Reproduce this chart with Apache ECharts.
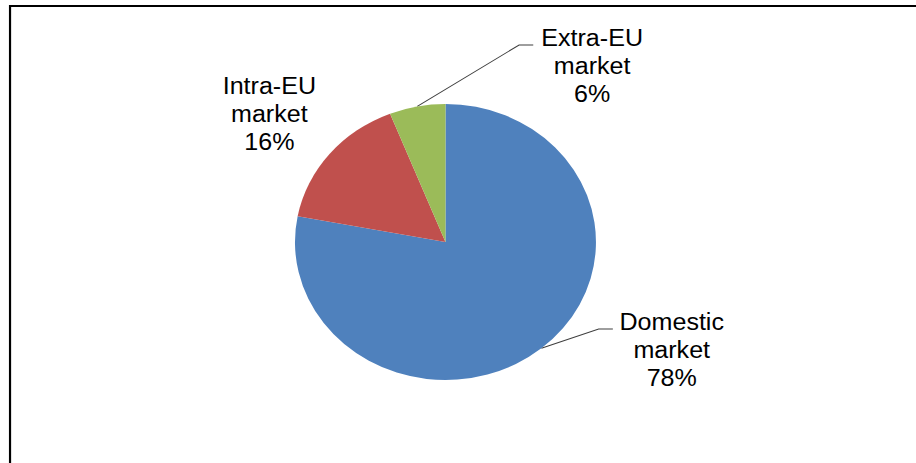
<!DOCTYPE html>
<html>
<head>
<meta charset="utf-8">
<script src="https://cdn.jsdelivr.net/npm/echarts@6/dist/echarts.min.js"></script>
<style>
  html, body { margin: 0; padding: 0; background: #fff; overflow: hidden; }
  /* the chart is laid out 840px wide and stretched horizontally to fill 916px */
  #chart { width: 840px; height: 463px; transform: scaleX(1.0905); transform-origin: 0 0; }
</style>
</head>
<body>
<div id="chart"></div>
<script>
// Market shares
const categories = ['Domestic market', 'Intra-EU market', 'Extra-EU market'];
const shares = [78, 16, 6];
const sliceColors = ['#4F81BD', '#C0504D', '#9BBB59'];

// Label block placement: [centre x, top y] in chart pixels
const labelSpots = [[616, 307.5], [247, 71.5], [543, 23.5]];
const showLeader = [true, false, true];

const chart = echarts.init(document.getElementById('chart'), null, { renderer: 'svg' });

const option = {
  animation: false,
  backgroundColor: '#ffffff',
  graphic: [{
    type: 'rect',
    silent: true,
    shape: { x: 9.2, y: 6, width: 1200, height: 1200 },
    style: { fill: 'none', stroke: '#000000', lineWidth: 2 }
  }],
  series: [{
    type: 'pie',
    center: [408.5, 242],
    radius: 138,
    startAngle: 90,
    clockwise: true,
    avoidLabelOverlap: false,
    itemStyle: { borderWidth: 0 },
    label: {
      show: true,
      position: 'outside',
      color: '#000000',
      fontFamily: '"Liberation Sans", Arial, sans-serif',
      fontSize: 23,
      lineHeight: 28,
      align: 'center',
      formatter: function (p) {
        return p.name.replace(' ', '\n') + '\n' + Math.round(p.percent) + '%';
      }
    },
    labelLine: {
      show: true,
      length: 20,
      length2: 10,
      lineStyle: { color: '#3f3f3f', width: 1 }
    },
    labelLayout: function (p) {
      const spot = labelSpots[p.dataIndex];
      const out = { x: spot[0], y: spot[1], align: 'center', verticalAlign: 'top' };
      if (p.labelLinePoints) {
        const yLink = spot[1] + 21.5;
        out.labelLinePoints = [
          p.labelLinePoints[0],
          [spot[0] - 67, yLink],
          [spot[0] - 54, yLink]
        ];
      }
      return out;
    },
    data: categories.map(function (name, i) {
      return {
        name: name,
        value: shares[i],
        itemStyle: { color: sliceColors[i] },
        labelLine: { show: showLeader[i] }
      };
    })
  }]
};

chart.setOption(option);
</script>
</body>
</html>
